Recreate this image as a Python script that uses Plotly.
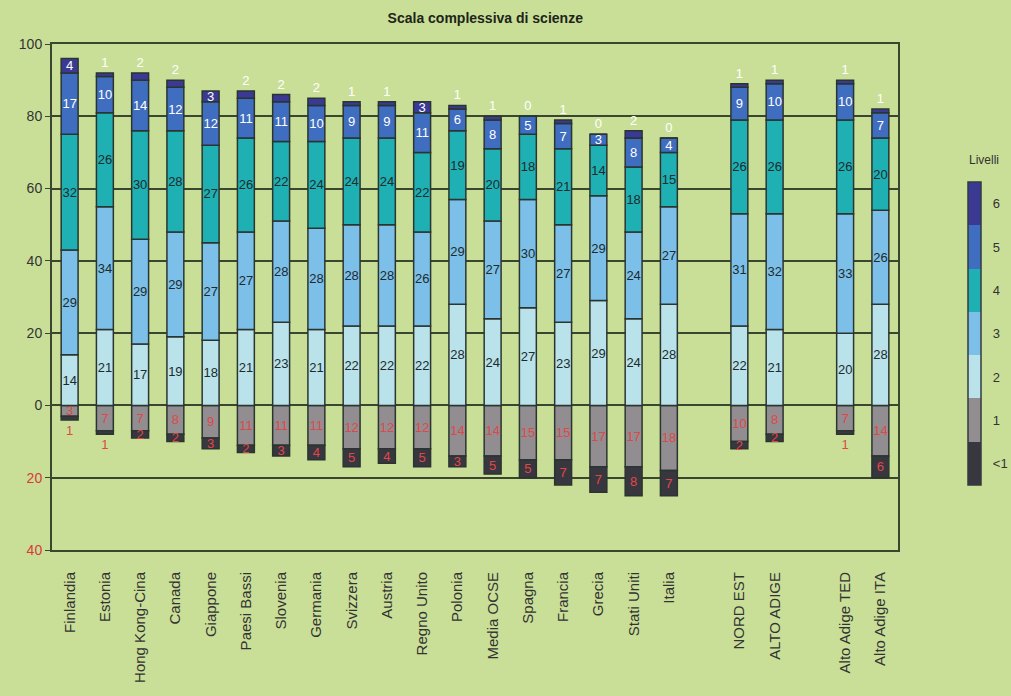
import plotly.graph_objects as go

categories = ["Finlandia", "Estonia", "Hong Kong-Cina", "Canada", "Giappone", "Paesi Bassi",
              "Slovenia", "Germania", "Svizzera", "Austria", "Regno Unito", "Polonia",
              "Media OCSE", "Spagna", "Francia", "Grecia", "Stati Uniti", "Italia",
              " ", "NORD EST", "ALTO ADIGE", "  ", "Alto Adige TED", "Alto Adige ITA"]

# percentages by proficiency level (None = spacer slot)
lev_below1 = [1, 1, 2, 2, 3, 2, 3, 4, 5, 4, 5, 3, 5, 5, 7, 7, 8, 7, None, 2, 2, None, 1, 6]
lev1 = [3, 7, 7, 8, 9, 11, 11, 11, 12, 12, 12, 14, 14, 15, 15, 17, 17, 18, None, 10, 8, None, 7, 14]
lev2 = [14, 21, 17, 19, 18, 21, 23, 21, 22, 22, 22, 28, 24, 27, 23, 29, 24, 28, None, 22, 21, None, 20, 28]
lev3 = [29, 34, 29, 29, 27, 27, 28, 28, 28, 28, 26, 29, 27, 30, 27, 29, 24, 27, None, 31, 32, None, 33, 26]
lev4 = [32, 26, 30, 28, 27, 26, 22, 24, 24, 24, 22, 19, 20, 18, 21, 14, 18, 15, None, 26, 26, None, 26, 20]
lev5 = [17, 10, 14, 12, 12, 11, 11, 10, 9, 9, 11, 6, 8, 5, 7, 3, 8, 4, None, 9, 10, None, 10, 7]
lev6 = [4, 1, 2, 2, 3, 2, 2, 2, 1, 1, 3, 1, 1, 0, 1, 0, 2, 0, None, 1, 1, None, 1, 1]

level_names = ["<1", "1", "2", "3", "4", "5", "6"]
colors = ["#38363f", "#918d91", "#b9e2ea", "#7cc0ea", "#1fb0b4", "#3f6dc0", "#3a3a94"]
text_colors = ["#e04848", "#e04848", "#1e2b2b", "#1e2b2b", "#1e2b2b", "#ffffff", "#ffffff"]

yticks = [-40, -20, 0, 20, 40, 60, 80, 100]
yticktext = ['<span style="color:#d83a3a">40</span>', '<span style="color:#d83a3a">20</span>',
             "0", "20", "40", "60", "80", "100"]

bg = "#c9df98"
dark = "#3a4630"
font_family = "Liberation Sans, Arial, sans-serif"

fig = go.Figure()

series = [
    ("1", [-v if v is not None else None for v in lev1], lev1, 1),
    ("<1", [-v if v is not None else None for v in lev_below1], lev_below1, 0),
    ("2", lev2, lev2, 2),
    ("3", lev3, lev3, 3),
    ("4", lev4, lev4, 4),
    ("5", lev5, lev5, 5),
    ("6", lev6, lev6, 6),
]

for name, yvals, labels, idx in series:
    # outer segments of the stack: tiny values get their label just outside the bar end
    if idx in (0, 6):
        limit = 1 if idx == 0 else 2
        tpos = ["outside" if (v is not None and v <= limit) else "inside" for v in labels]
    else:
        tpos = "inside"
    fig.add_trace(go.Bar(
        x=categories, y=yvals, name=name,
        marker=dict(color=colors[idx], line=dict(color="#2b3530", width=1.5)),
        width=0.48,
        text=["" if v is None else str(v) for v in labels],
        textposition=tpos, insidetextanchor="middle", textangle=0,
        constraintext="none", cliponaxis=False,
        textfont=dict(color=text_colors[idx], size=13, family=font_family),
        outsidetextfont=dict(color=text_colors[idx], size=13, family=font_family),
        showlegend=False, hoverinfo="skip",
    ))

# discrete colour bar as legend
n = len(colors)
cscale = []
for i, c in enumerate(colors):
    cscale.append([i / n, c])
    cscale.append([(i + 1) / n, c])
fig.add_trace(go.Scatter(
    x=[categories[0]], y=[None], mode="markers", showlegend=False, hoverinfo="skip",
    marker=dict(color=[0], colorscale=cscale, cmin=-0.5, cmax=n - 0.5, showscale=True,
                colorbar=dict(
                    x=1.083, xanchor="left",
                    y=0.128, yanchor="bottom", len=0.599, lenmode="fraction",
                    thickness=13, outlinecolor="#333a40", outlinewidth=1.5,
                    tickvals=list(range(n)), ticktext=level_names,
                    ticks="outside", ticklen=9, tickcolor=bg,
                    tickfont=dict(size=13, color="#333333", family=font_family),
                    ypad=0, xpad=0,
                )),
))

fig.add_annotation(text="Livelli", xref="paper", yref="paper", x=1.082, y=0.77,
                   xanchor="left", yanchor="middle", showarrow=False,
                   font=dict(size=12, color="#333333", family=font_family))

fig.update_layout(
    width=1011, height=696,
    paper_bgcolor=bg, plot_bgcolor=bg,
    barmode="relative", bargap=0.5,
    margin=dict(l=52, r=113, t=44, b=146, autoexpand=False),
    title=dict(text="<b>Scala complessiva di scienze</b>", x=0.48, xanchor="center",
               y=0.974, yanchor="middle",
               font=dict(size=14, color="#1e2418", family=font_family)),
    font=dict(family=font_family, color="#333333"),
    uniformtext=dict(minsize=13, mode="show"),
)
fig.update_xaxes(
    type="category", categoryorder="array", categoryarray=categories,
    range=[-0.5, len(categories) - 0.5],
    tickangle=-90, tickfont=dict(size=15, color="#333333"),
    ticklabelstandoff=14,
    showline=True, linecolor=dark, linewidth=2, mirror=True,
    showgrid=False, ticks="",
)
fig.update_yaxes(
    range=[-40, 100], tickvals=yticks, ticktext=yticktext,
    tickfont=dict(size=14, color="#333333"),
    showgrid=True, gridcolor=dark, gridwidth=1.5,
    zeroline=True, zerolinecolor=dark, zerolinewidth=1.5,
    showline=True, linecolor=dark, linewidth=2, mirror=True,
    ticks="outside", ticklen=5, tickcolor=dark,
)

fig.write_html("out.html")
